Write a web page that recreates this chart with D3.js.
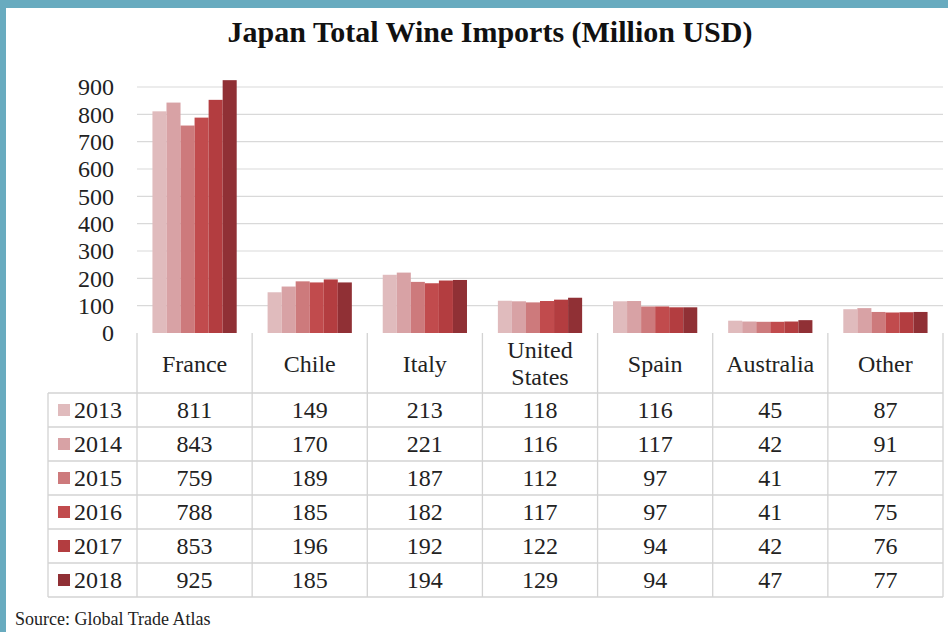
<!DOCTYPE html>
<html>
<head>
<meta charset="utf-8">
<script src="https://cdn.jsdelivr.net/npm/d3@7"></script>
<style>
  body { margin: 0; background: #fff; }
  svg { display: block; font-family: "Liberation Serif", "Times New Roman", serif; }
</style>
</head>
<body>
<div id="chart"></div>
<script>
const countries = ["France", "Chile", "Italy", "United States", "Spain", "Australia", "Other"];
const years = ["2013", "2014", "2015", "2016", "2017", "2018"];
const v2013 = [811, 149, 213, 118, 116, 45, 87];
const v2014 = [843, 170, 221, 116, 117, 42, 91];
const v2015 = [759, 189, 187, 112, 97, 41, 77];
const v2016 = [788, 185, 182, 117, 97, 41, 75];
const v2017 = [853, 196, 192, 122, 94, 42, 76];
const v2018 = [925, 185, 194, 129, 94, 47, 77];
const yTicks = [0, 100, 200, 300, 400, 500, 600, 700, 800, 900];
const colors = ["#e0bbbd", "#d8a2a5", "#cd7a7c", "#c14b4d", "#b33d40", "#903035"];

const series = [v2013, v2014, v2015, v2016, v2017, v2018];

const w = 948, h = 632;
const svg = d3.select("#chart").append("svg").attr("width", w).attr("height", h);

// teal frame
svg.append("rect").attr("width", w).attr("height", h).attr("fill", "#68abbf");
svg.append("rect").attr("x", 6).attr("y", 8).attr("width", w - 6).attr("height", h - 8).attr("fill", "#fff");

// title
svg.append("text").attr("x", 490).attr("y", 42)
  .attr("text-anchor", "middle").attr("font-size", 30).attr("font-weight", "bold")
  .attr("fill", "#111")
  .text("Japan Total Wine Imports (Million USD)");

const left = 137, right = 943;
const x = d3.scaleBand().domain(countries).range([left, right]);
const xi = d3.scaleBand().domain(years).range([0, x.bandwidth()]).paddingOuter(1.1);
const y = d3.scaleLinear().domain([0, 900]).range([333, 87]);

// gridlines
svg.append("g").selectAll("line").data(yTicks.slice(1)).enter().append("line")
  .attr("x1", left).attr("x2", right)
  .attr("y1", d => y(d)).attr("y2", d => y(d))
  .attr("stroke", "#d9d9d9").attr("stroke-width", 1.2);

// y axis labels
const yAxis = d3.axisLeft(y).tickValues(yTicks).tickSize(0).tickPadding(0);
const ya = svg.append("g").attr("transform", "translate(114,0)").call(yAxis);
ya.select(".domain").remove();
ya.selectAll("text").attr("font-family", "Liberation Serif").attr("font-size", 24).attr("fill", "#222");

// bars
const groups = svg.append("g").selectAll("g").data(series).enter().append("g")
  .attr("fill", (d, i) => colors[i]);
groups.each(function (vals, si) {
  d3.select(this).selectAll("rect").data(vals).enter().append("rect")
    .attr("x", (d, ci) => x(countries[ci]) + xi(years[si]))
    .attr("width", xi.bandwidth())
    .attr("y", d => y(d))
    .attr("height", d => y(0) - y(d));
});

// data table
const tableTop = 333, headBottom = 393, rowH = 34;
const tableLeft = 48;
const grid = "#d3d3d3";
const tb = svg.append("g").attr("stroke", grid).attr("stroke-width", 1.3);
// vertical lines
d3.range(countries.length + 1).forEach(i => {
  const xx = left + i * x.step();
  tb.append("line").attr("x1", xx).attr("x2", xx).attr("y1", tableTop).attr("y2", headBottom + rowH * years.length);
});
tb.append("line").attr("x1", tableLeft).attr("x2", tableLeft).attr("y1", headBottom).attr("y2", headBottom + rowH * years.length);
// horizontal lines
d3.range(years.length + 1).forEach(i => {
  const yy = headBottom + i * rowH;
  tb.append("line").attr("x1", tableLeft).attr("x2", right).attr("y1", yy).attr("y2", yy);
});

// header labels
const hdr = svg.append("g").attr("font-size", 24).attr("fill", "#222").attr("text-anchor", "middle");
countries.forEach(c => {
  const cx = x(c) + x.bandwidth() / 2;
  if (c === "United States") {
    hdr.append("text").attr("x", cx).attr("y", 358).text("United");
    hdr.append("text").attr("x", cx).attr("y", 385).text("States");
  } else {
    hdr.append("text").attr("x", cx).attr("y", 372).text(c);
  }
});

// rows
years.forEach((yr, si) => {
  const cy = headBottom + si * rowH + rowH / 2;
  svg.append("rect").attr("x", 58).attr("y", cy - 6).attr("width", 12).attr("height", 12).attr("fill", colors[si]);
  svg.append("text").attr("x", 74).attr("y", cy + 8).attr("font-size", 24).attr("fill", "#222").text(yr);
  series[si].forEach((v, ci) => {
    svg.append("text").attr("x", x(countries[ci]) + x.bandwidth() / 2).attr("y", cy + 8)
      .attr("text-anchor", "middle").attr("font-size", 24).attr("fill", "#222").text(v);
  });
});

// source
svg.append("text").attr("x", 15).attr("y", 625).attr("font-size", 18).attr("fill", "#222")
  .text("Source: Global Trade Atlas");
</script>
</body>
</html>
